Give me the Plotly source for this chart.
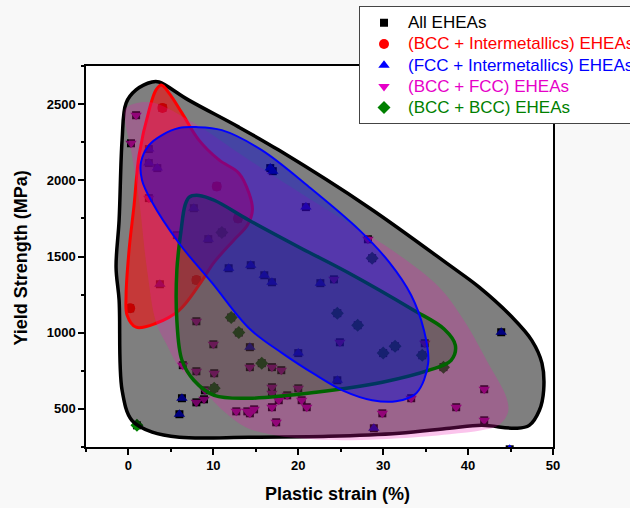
import plotly.graph_objects as go

# ---------------- data ----------------
red_x = [4.0, 0.2, 10.4, 12.9, 8.0]
red_y = [2475, 1160, 1960, 1750, 1345]

blue_x = [2.4, 2.4, 3.4, 3.7, 7.7, 9.4, 11.8, 14.4, 16.0, 16.9, 16.7, 17.0, 20.9,
          22.6, 14.3, 20.0, 24.6, 43.9, 6.3, 6.0, 28.9, 44.9]
blue_y = [2205, 2113, 2080, 1318, 1817, 1614, 1423, 1443, 1377, 1331, 2080, 2060, 1824,
          1325, 905, 866, 688, 1003, 570, 465, 373, 235]

pink_x = [0.9, 0.3, 2.4, 5.7, 8.0, 10.0, 6.4, 8.0, 10.1, 14.3, 16.9, 18.0, 9.0, 16.9,
          16.9, 20.0, 18.7, 8.0, 8.9, 12.7, 14.0, 14.8, 14.3, 16.9, 17.7, 20.4, 21.0,
          17.4, 29.9, 33.3, 38.6, 41.9, 41.9, 28.2, 24.2, 24.9, 34.9]
pink_y = [2427, 2243, 1883, 1640, 1075, 924, 787, 747, 734, 774, 774, 754, 622, 642,
          602, 635, 589, 543, 563, 484, 484, 497, 471, 511, 557, 557, 511,
          412, 471, 570, 511, 629, 425, 1613, 1350, 937, 931]

green_x = [11.0, 12.1, 13.0, 15.7, 10.1, 27.0, 30.0, 31.4, 34.6, 24.6, 28.7, 37.1, 1.0]
green_y = [1658, 1100, 1001, 800, 636, 1049, 866, 911, 852, 1128, 1489, 774, 392]

all_x = red_x + blue_x + pink_x + green_x
all_y = red_y + blue_y + pink_y + green_y

# envelope outlines (data coordinates)
hull_all_x = [23.6, 14.2, 6.0, 2.8, 0.4, -0.75, -1.1, -1.46, -1.1, -0.75, -0.28, 0.89, 2.78,
              3.6, 7.1, 13.0, 17.7, 28.3, 37.8, 41.3, 45.2, 47.5, 48.7, 48.9, 48.4, 47.2,
              45.6, 41.6, 37.8, 31.9, 23.6]
hull_all_y = [320, 314, 314, 347, 425, 622, 1213, 1430, 1739, 2264, 2507, 2593, 2645,
              2645, 2526, 2349, 2198, 1822, 1443, 1299, 1101, 950, 800, 622, 491, 392,
              373, 392, 373, 340, 320]

hull_red_x = [3.86, 4.78, 6.31, 8.3, 10.7, 13.0, 14.2, 14.6, 14.0, 12.4, 10.1, 8.3, 5.96,
              3.25, 0.9, -0.16, -0.28, 0.07, 0.66, 1.25, 2.43, 3.25, 3.86]
hull_red_y = [2625, 2572, 2441, 2264, 2132, 2047, 1915, 1804, 1705, 1607, 1463, 1312, 1147,
              1062, 1036, 1115, 1246, 1541, 1837, 2165, 2461, 2593, 2625]

hull_pink_x = [-0.27, 2.43, 7.1, 14.2, 24.0, 31.9, 36.6, 39.5, 42.5, 44.5, 44.7, 43.6, 41.6,
               37.8, 31.9, 26.0, 20.1, 16.6, 13.8, 10.7, 8.3, 5.96, 4.55, 3.25, 2.2, 1.25,
               0.3, -0.4, -0.27]
hull_pink_y = [2474, 2513, 2395, 2133, 1785, 1509, 1299, 1082, 787, 577, 478, 393, 360,
               334, 307, 294, 307, 334, 380, 511, 655, 774, 918, 1069, 1410, 1869,
               2198, 2395, 2474]

hull_green_x = [7.16, 8.3, 10.1, 14.2, 20.1, 26.0, 33.4, 37.2, 38.5, 38.0, 35.4, 29.9, 22.1,
                14.2, 10.1, 7.7, 6.3, 5.7, 5.7, 6.2, 6.67, 7.16]
hull_green_y = [1890, 1901, 1869, 1738, 1561, 1390, 1154, 1023, 918, 819, 754, 675, 609,
                570, 589, 688, 819, 1082, 1410, 1673, 1837, 1890]

hull_blue_x = [27.2, 30.7, 33.3, 34.8, 35.3, 33.9, 31.5, 28.7, 25.2, 22.1, 18.1, 14.2, 9.87,
               5.96, 2.66, 1.6, 1.48, 2.43, 3.96, 5.96, 7.96, 11.0, 15.7, 21.3, 27.2]
hull_blue_y = [1673, 1463, 1246, 1016, 800, 603, 550, 557, 622, 721, 866, 1029, 1325,
               1587, 1869, 2001, 2119, 2231, 2297, 2343, 2349, 2329, 2198, 1955, 1673]

x_range = [-5, 50]
y_range = [250, 2750]

FONT = "Arial, Liberation Sans, sans-serif"

def lbl(text, color):
    return f"<span style='color:{color};font-size:17px'>{text}</span>"

fig = go.Figure()

# points: black squares for all, then coloured markers on top
fig.add_trace(go.Scatter(x=all_x, y=all_y, mode="markers", name=lbl("All EHEAs", "#000000"),
                         marker=dict(symbol="square", size=8, color="black"), legendrank=1))
fig.add_trace(go.Scatter(x=red_x, y=red_y, mode="markers",
                         name=lbl("(BCC + Intermetallics) EHEAs", "#ff0000"),
                         marker=dict(symbol="circle", size=10, color="#ff0000"), legendrank=2))
fig.add_trace(go.Scatter(x=blue_x, y=blue_y, mode="markers",
                         name=lbl("(FCC + Intermetallics) EHEAs", "#0000ff"),
                         marker=dict(symbol="triangle-up", size=10, color="#0000ff"), legendrank=3))
fig.add_trace(go.Scatter(x=pink_x, y=pink_y, mode="markers",
                         name=lbl("(BCC + FCC) EHEAs", "#e600c8"),
                         marker=dict(symbol="triangle-down", size=10, color="#e600c8"), legendrank=4))
fig.add_trace(go.Scatter(x=green_x, y=green_y, mode="markers",
                         name=lbl("(BCC + BCC) EHEAs", "#008000"),
                         marker=dict(symbol="diamond", size=10, color="#008000"), legendrank=5))

# translucent envelopes drawn over the points
def env(xs, ys, fill, line_color, width):
    fig.add_trace(go.Scatter(x=xs, y=ys, mode="lines", fill="toself", fillcolor=fill,
                             line=dict(color=line_color, width=width, shape="spline", smoothing=1.0),
                             showlegend=False, hoverinfo="skip"))

env(hull_all_x, hull_all_y, "rgba(0,0,0,0.5)", "black", 3.5)
env(hull_red_x, hull_red_y, "rgba(255,0,0,0.55)", "#ff0000", 3)
env(hull_pink_x, hull_pink_y, "rgba(240,20,180,0.25)", "rgba(0,0,0,0)", 0)
env(hull_green_x, hull_green_y, "rgba(0,80,0,0.28)", "#006400", 3.5)
env(hull_blue_x, hull_blue_y, "rgba(0,0,210,0.45)", "#0000ff", 2)

axis_common = dict(showline=True, linecolor="black", linewidth=1.5, mirror=True,
                   showgrid=False, zeroline=False, ticks="outside", ticklen=6, tickwidth=1.5,
                   tickcolor="black",
                   tickfont=dict(family=FONT, size=13, color="black", weight="bold"))

fig.update_xaxes(range=x_range, tick0=0, dtick=10,
                 minor=dict(dtick=5, ticks="outside", ticklen=3, tickwidth=1.5, tickcolor="black"),
                 **axis_common)
fig.update_yaxes(range=y_range, tick0=0, dtick=500,
                 minor=dict(dtick=250, ticks="outside", ticklen=3, tickwidth=1.5, tickcolor="black"),
                 **axis_common)

fig.add_annotation(text="Plastic strain (%)", xref="paper", yref="paper", x=0.5375, y=-0.124,
                   xanchor="center", yanchor="middle", showarrow=False,
                   font=dict(family=FONT, size=18, color="black", weight="bold"))
fig.add_annotation(text="Yield Strength (MPa)", xref="paper", yref="paper", x=-0.139, y=0.495,
                   xanchor="center", yanchor="middle", showarrow=False, textangle=-90,
                   font=dict(family=FONT, size=18, color="black", weight="bold"))

fig.update_layout(
    width=630, height=508,
    margin=dict(l=86, r=77, t=66, b=61, autoexpand=False),
    paper_bgcolor="#f8f8f8", plot_bgcolor="white",
    legend=dict(x=0.5846, y=1.157, xanchor="left", yanchor="top",
                bgcolor="white", bordercolor="#444444", borderwidth=1,
                font=dict(family=FONT, size=14, color="black"),
                itemwidth=38, tracegroupgap=0),
    showlegend=True,
)

fig.write_html("out.html")
